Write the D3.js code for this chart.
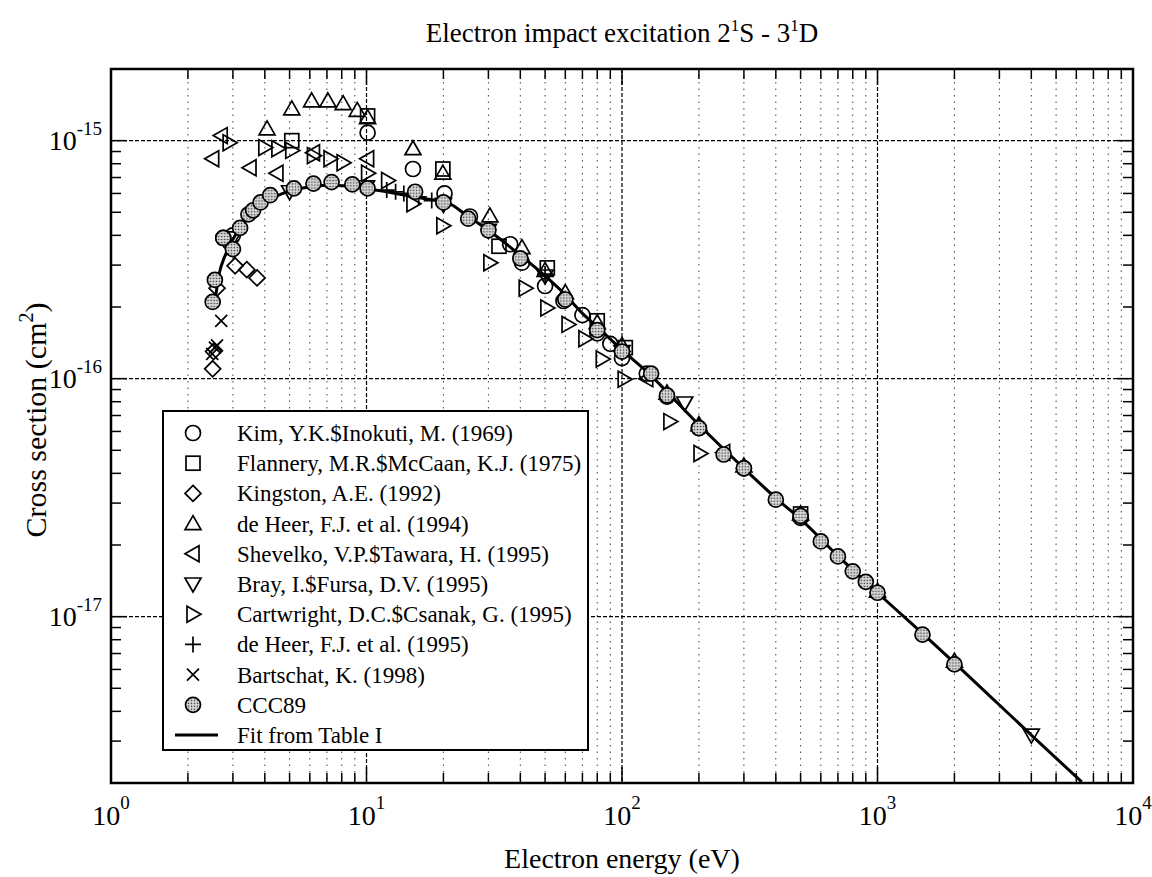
<!DOCTYPE html>
<html>
<head>
<meta charset="utf-8">
<script src="https://cdn.jsdelivr.net/npm/d3@7"></script>
<style>
  body { margin: 0; background: #fff; }
  text { font-family: "Liberation Serif", "Times New Roman", serif; fill: #000; }
</style>
</head>
<body>
<svg id="chart" width="1152" height="877"></svg>
<script>
// cross sections are given in units of 1e-16 cm^2, energies in eV
var unit = 1e-16

var kim = [[2.75,3.9],[3.0,4.0],[10.1,10.8],[15.2,7.6],[20.2,6.0],[25.4,4.8],[36.5,3.67],[40.6,3.07],
           [50,2.45],[59,2.12],[70,1.85],[80,1.55],[90,1.40],[100,1.22],[125,1.05],[150,0.84],
           [200,0.62],[300,0.42],[500,0.26]]
var flannery = [[5.1,10.0],[10.1,12.7],[19.9,7.6],[33,3.6],[51,2.92],[80,1.75],[103,1.35],[500,0.27]]
var kingston = [[2.5,1.1],[2.52,1.3],[2.6,2.4],[3.06,2.98],[3.4,2.87],[3.73,2.65]]
var deHeer94 = [[4.08,11.2],[5.1,13.6],[6.1,14.7],[7.06,14.7],[8.1,14.3],[9.2,13.4],[10.1,12.5],
                [15.2,9.25],[19.9,7.3],[30.4,4.83],[40.6,3.55],[50,2.85],[60,2.3],[80,1.72],
                [100,1.38],[150,0.87],[200,0.64],[300,0.43],[500,0.27],[1000,0.128],[2000,0.065]]
var shevelko = [[2.5,8.4],[2.7,10.5],[3.5,7.7],[4.46,7.3],[6.2,8.9],[10.1,8.4],[125,1.0],[250,0.49]]
var bray = [[3,3.9],[5,6.1],[10,6.4],[20,5.4],[30,4.2],[50,2.7],[100,1.3],[176,0.79],[4000,0.0318]]
var cartwright = [[2.9,9.8],[4.0,9.35],[4.5,9.25],[5.1,9.1],[6.2,8.65],[7.2,8.4],[8.1,8.07],[10.1,7.3],
                  [12.1,6.8],[15.2,5.43],[19.9,4.39],[30.4,3.07],[41.8,2.4],[50.8,1.98],[61.5,1.69],
                  [71.6,1.47],[83.7,1.21],[102,0.995],[154,0.66],[202,0.485]]
var deHeer95 = [[12,6.2],[13,6.1],[14,6.0],[16,5.8],[18,5.6],[20,5.4],[30,4.25],[50,2.75],[100,1.3],
                [200,0.63],[500,0.26],[1000,0.126]]
var bartschat = [[2.49,1.27],[2.55,1.35],[2.6,1.38],[2.7,1.75],[2.9,3.4],[3.0,3.6]]
var ccc89 = [[2.5,2.1],[2.55,2.6],[2.75,3.9],[3.0,3.5],[3.2,4.3],[3.45,4.9],[3.6,5.1],[3.85,5.5],
             [4.2,5.9],[5.2,6.3],[6.2,6.6],[7.3,6.7],[8.8,6.55],[10.1,6.3],[15.5,6.1],[20,5.5],
             [25,4.7],[30,4.2],[40,3.2],[60,2.15],[80,1.6],[100,1.3],[130,1.05],[150,0.85],
             [200,0.62],[250,0.48],[300,0.42],[400,0.31],[500,0.265],[600,0.207],[700,0.179],
             [800,0.155],[900,0.14],[1000,0.126],[1500,0.084],[2000,0.063]]
var fit = [[2.55,2.1],[2.65,2.75],[2.8,3.3],[3.0,3.85],[3.3,4.5],[3.7,5.1],[4.2,5.65],[5,6.15],
           [6,6.4],[7,6.5],[8.5,6.45],[10,6.3],[13,6.0],[17,5.7],[21,5.45],[25,4.8],[30,4.2],
           [40,3.3],[50,2.7],[60,2.25],[70,1.88],[80,1.65],[100,1.32],[130,1.03],[150,0.88],
           [200,0.64],[300,0.42],[400,0.315],[500,0.257],[700,0.18],[1000,0.126],[1500,0.085],
           [2000,0.064],[4000,0.0318],[6300,0.0202]]

var legendLabels = ["Kim, Y.K.$Inokuti, M. (1969)", "Flannery, M.R.$McCaan, K.J. (1975)",
    "Kingston, A.E. (1992)", "de Heer, F.J. et al. (1994)", "Shevelko, V.P.$Tawara, H. (1995)",
    "Bray, I.$Fursa, D.V. (1995)", "Cartwright, D.C.$Csanak, G. (1995)", "de Heer, F.J. et al. (1995)",
    "Bartschat, K. (1998)", "CCC89", "Fit from Table I"]
var legendShapes = ["circle","square","diamond","up","left","down","right","plus","times","ccc","line"]
var seriesData = [kim, flannery, kingston, deHeer94, shevelko, bray, cartwright, deHeer95, bartschat, ccc89]

var xDecades = [0, 1, 2, 3, 4]
var yDecades = [-15, -16, -17]

var dims = { width: 1152, height: 877, left: 111, right: 1133, top: 69, bottom: 783 }

var svg = d3.select("#chart")

var defs = svg.append("defs")
var pat = defs.append("pattern").attr("id", "dots").attr("width", 3).attr("height", 3)
    .attr("patternUnits", "userSpaceOnUse")
pat.append("rect").attr("width", 3).attr("height", 3).attr("fill", "#d8d8d8")
pat.append("circle").attr("cx", 1.5).attr("cy", 1.5).attr("r", 0.8).attr("fill", "#333")
defs.append("clipPath").attr("id", "plotclip").append("rect")
    .attr("x", dims.left).attr("y", dims.top)
    .attr("width", dims.right - dims.left).attr("height", dims.bottom - dims.top)

var xScale = d3.scaleLog().domain([1, 1e4]).range([dims.left, dims.right])
var yScale = d3.scaleLog().domain([2e-18, 2e-15]).range([dims.bottom, dims.top])

var xTicks = xScale.ticks()
var yTicks = yScale.ticks()

function isMajor(t){ return Math.abs(Math.log10(t) - Math.round(Math.log10(t))) < 1e-6 }

// vertical grid: dotted at every minor tick, dashed at decades
var grid = svg.append("g")
grid.selectAll("line.vminor")
    .data(xTicks.filter(t => !isMajor(t)))
    .enter().append("line")
    .attr("x1", d => xScale(d)).attr("x2", d => xScale(d))
    .attr("y1", dims.top).attr("y2", dims.bottom)
    .attr("stroke", "#444").attr("stroke-width", 1).attr("stroke-dasharray", "1.5,5")
grid.selectAll("line.vmajor")
    .data(xDecades.slice(1, 4))
    .enter().append("line")
    .attr("x1", d => xScale(Math.pow(10, d))).attr("x2", d => xScale(Math.pow(10, d)))
    .attr("y1", dims.top).attr("y2", dims.bottom)
    .attr("stroke", "#000").attr("stroke-width", 1.2).attr("stroke-dasharray", "4,2")
grid.selectAll("line.hmajor")
    .data(yDecades)
    .enter().append("line")
    .attr("x1", dims.left).attr("x2", dims.right)
    .attr("y1", d => yScale(Math.pow(10, d))).attr("y2", d => yScale(Math.pow(10, d)))
    .attr("stroke", "#000").attr("stroke-width", 1.2).attr("stroke-dasharray", "4,2")

// ticks on all four sides, pointing inward
var tickG = svg.append("g").attr("stroke", "#000").attr("stroke-width", 1.5)
xTicks.forEach(function(t){
    var len = isMajor(t) ? 16 : 10
    tickG.append("line").attr("x1", xScale(t)).attr("x2", xScale(t))
        .attr("y1", dims.top).attr("y2", dims.top + len)
    tickG.append("line").attr("x1", xScale(t)).attr("x2", xScale(t))
        .attr("y1", dims.bottom).attr("y2", dims.bottom - len)
})
yTicks.forEach(function(t){
    var len = isMajor(t) ? 16 : 10
    tickG.append("line").attr("y1", yScale(t)).attr("y2", yScale(t))
        .attr("x1", dims.left).attr("x2", dims.left + len)
    tickG.append("line").attr("y1", yScale(t)).attr("y2", yScale(t))
        .attr("x1", dims.right).attr("x2", dims.right - len)
})

// tick labels 10^n
xDecades.forEach(function(d){
    var t = svg.append("text").attr("x", xScale(Math.pow(10, d))).attr("y", 825)
        .attr("text-anchor", "middle").style("font-size", "28px")
    t.append("tspan").text("10")
    t.append("tspan").attr("dy", -16).style("font-size", "19px").text(d)
})
yDecades.forEach(function(d){
    var t = svg.append("text").attr("x", 102).attr("y", yScale(Math.pow(10, d)) + 9)
        .attr("text-anchor", "end").style("font-size", "28px")
    t.append("tspan").text("10")
    t.append("tspan").attr("dy", -15).style("font-size", "19px").text(d)
})

// symbol drawing
function drawSymbol(g, shape, cx, cy){
    var s = g.append("g").attr("transform", "translate(" + cx + "," + cy + ")")
        .attr("fill", "none").attr("stroke", "#000").attr("stroke-width", 1.7)
    if (shape == "circle") s.append("circle").attr("r", 7.5)
    else if (shape == "ccc") s.append("circle").attr("r", 7.5).attr("fill", "url(#dots)")
    else if (shape == "square") s.append("rect").attr("x", -7).attr("y", -7).attr("width", 14).attr("height", 14)
    else if (shape == "diamond") s.append("path").attr("d", "M0,-8L8,0L0,8L-8,0Z")
    else if (shape == "up") s.append("path").attr("d", "M0,-8L8,6L-8,6Z")
    else if (shape == "down") s.append("path").attr("d", "M0,8L8,-6L-8,-6Z")
    else if (shape == "left") s.append("path").attr("d", "M-8,0L6,-8L6,8Z")
    else if (shape == "right") s.append("path").attr("d", "M8,0L-6,-8L-6,8Z")
    else if (shape == "plus") s.append("path").attr("d", "M-8,0H8M0,-8V8")
    else if (shape == "times") s.append("path").attr("d", "M-6,-6L6,6M-6,6L6,-6")
    return s
}

// fit line
var plot = svg.append("g").attr("clip-path", "url(#plotclip)")
var lineGen = d3.line()
    .x(d => xScale(d[0]))
    .y(d => yScale(d[1] * unit))
    .curve(d3.curveMonotoneX)
plot.append("path").datum(fit)
    .attr("d", lineGen)
    .attr("fill", "none").attr("stroke", "#000").attr("stroke-width", 3)

// data points
seriesData.forEach(function(series, i){
    series.forEach(function(p){
        drawSymbol(plot, legendShapes[i], xScale(p[0]), yScale(p[1] * unit))
    })
})

// frame
svg.append("rect").attr("x", dims.left).attr("y", dims.top)
    .attr("width", dims.right - dims.left).attr("height", dims.bottom - dims.top)
    .attr("fill", "none").attr("stroke", "#000").attr("stroke-width", 2.5)

// legend
var legend = svg.append("g")
legend.append("rect").attr("x", 163).attr("y", 411).attr("width", 425).attr("height", 339)
    .attr("fill", "#fff").attr("stroke", "#000").attr("stroke-width", 2)
legendLabels.forEach(function(label, i){
    var cy = 433 + i * 30.2
    if (legendShapes[i] == "line") {
        legend.append("line").attr("x1", 175).attr("x2", 218).attr("y1", cy).attr("y2", cy)
            .attr("stroke", "#000").attr("stroke-width", 3)
    } else {
        drawSymbol(legend, legendShapes[i], 193, cy)
    }
    legend.append("text").attr("x", 237).attr("y", cy + 8).style("font-size", "23px").text(label)
})

// title and axis labels
var title = svg.append("text").attr("x", (dims.left + dims.right) / 2).attr("y", 42)
    .attr("text-anchor", "middle").style("font-size", "27px")
title.append("tspan").text("Electron impact excitation 2")
title.append("tspan").attr("dy", -11).style("font-size", "17px").text("1")
title.append("tspan").attr("dy", 11).text("S - 3")
title.append("tspan").attr("dy", -11).style("font-size", "17px").text("1")
title.append("tspan").attr("dy", 11).text("D")

svg.append("text").attr("x", (dims.left + dims.right) / 2).attr("y", 868)
    .attr("text-anchor", "middle").style("font-size", "28px").text("Electron energy (eV)")

var ylab = svg.append("text").attr("transform", "translate(46,420) rotate(-90)")
    .attr("text-anchor", "middle").style("font-size", "30px")
ylab.append("tspan").text("Cross section (cm")
ylab.append("tspan").attr("dy", -13).style("font-size", "20px").text("2")
ylab.append("tspan").attr("dy", 13).text(")")
</script>
</body>
</html>
